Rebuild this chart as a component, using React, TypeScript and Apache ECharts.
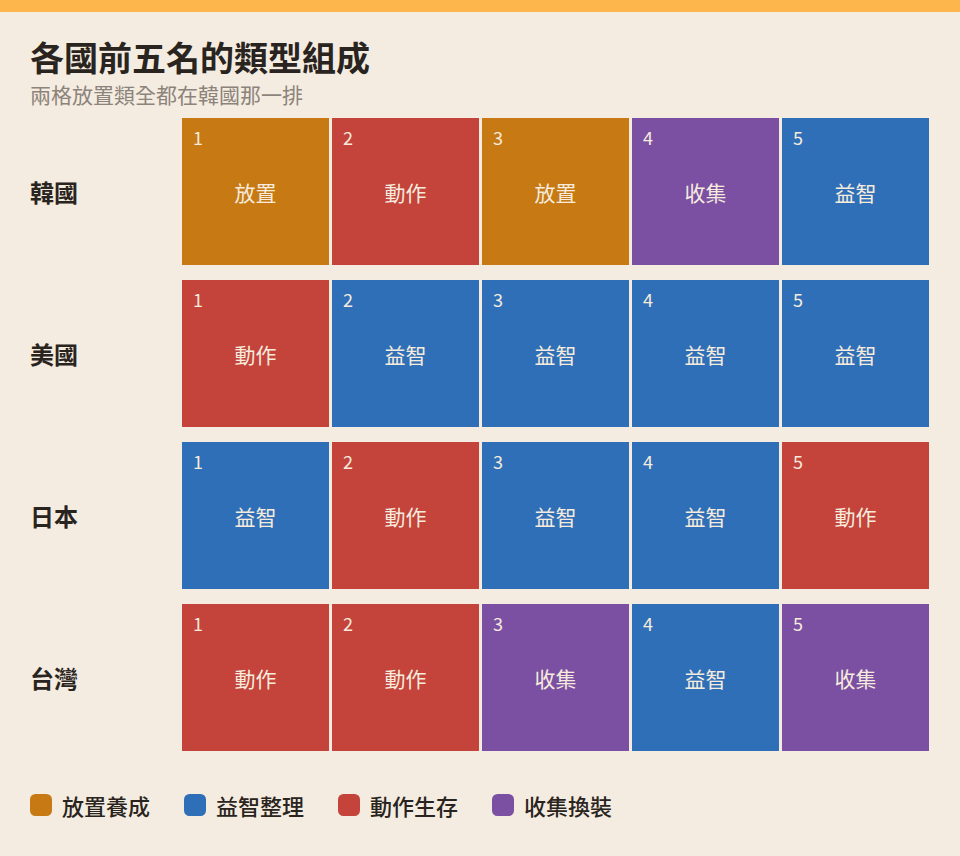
import { useEffect, useRef } from 'react'
import * as echarts from 'echarts'

// rows top to bottom, columns = rank 1..5
const countries = ['韓國', '美國', '日本', '台灣']
const ranks = ['1', '2', '3', '4', '5']
const genreKeys = ['放置', '益智', '動作', '收集']
const genreNames = ['放置養成', '益智整理', '動作生存', '收集換裝']
const genreColors = ['#C77A14', '#2E6FB7', '#C4443C', '#7B50A3']

const korea = ['放置', '動作', '放置', '收集', '益智']
const usa = ['動作', '益智', '益智', '益智', '益智']
const japan = ['益智', '動作', '益智', '益智', '動作']
const taiwan = ['動作', '動作', '收集', '益智', '收集']
const rows = [korea, usa, japan, taiwan]

const FONT = '"Noto Sans CJK TC", "Noto Sans", sans-serif'
const INK = '#2A2420'
const CREAM = '#F6EBDD'

export default function App() {
  const ref = useRef<HTMLDivElement>(null)

  useEffect(() => {
    if (!ref.current) return
    document.body.style.margin = '0'
    const chart = echarts.init(ref.current, null, { renderer: 'svg' })

    const series = genreKeys.map((key, gi) => {
      const data: number[][] = []
      rows.forEach((row, ci) => {
        row.forEach((g, ri) => {
          if (g === key) data.push([ri, ci])
        })
      })
      return {
        name: genreNames[gi],
        type: 'custom',
        data,
        itemStyle: { color: genreColors[gi] },
        renderItem: (_p: unknown, api: any) => {
          const ri = api.value(0)
          const ci = api.value(1)
          const c = api.coord([ri, ci])
          const size = api.size([1, 1])
          const w = size[0] - 3
          const h = size[1] - 15
          const x = c[0] - w / 2
          const y = c[1] - h / 2
          return {
            type: 'group',
            children: [
              {
                type: 'rect',
                shape: { x, y, width: w, height: h },
                style: { fill: genreColors[gi] },
              },
              {
                type: 'text',
                style: {
                  text: ranks[ri],
                  x: x + 11,
                  y: y + 10,
                  fill: CREAM,
                  fontSize: 18,
                  fontFamily: FONT,
                  align: 'left',
                  verticalAlign: 'top',
                },
              },
              {
                type: 'text',
                style: {
                  text: rows[ci][ri],
                  x: c[0],
                  y: c[1],
                  fill: CREAM,
                  fontSize: 21,
                  fontFamily: FONT,
                  align: 'center',
                  verticalAlign: 'middle',
                },
              },
            ],
          }
        },
      }
    })

    chart.setOption({
      animation: false,
      backgroundColor: '#F4ECE1',
      textStyle: { fontFamily: FONT },
      title: {
        text: '各國前五名的類型組成',
        subtext: '兩格放置類全都在韓國那一排',
        left: 30,
        top: 39,
        padding: 0,
        itemGap: 10,
        textStyle: { fontSize: 34, lineHeight: 34, fontWeight: 'bold', color: INK, fontFamily: FONT },
        subtextStyle: { fontSize: 21, lineHeight: 21, color: '#8C837A', fontFamily: FONT },
      },
      graphic: [
        {
          type: 'rect',
          left: 0,
          top: 0,
          shape: { width: 960, height: 12 },
          style: { fill: '#FDB64B' },
        },
      ],
      legend: {
        left: 30,
        top: 794,
        padding: 0,
        icon: 'roundRect',
        itemWidth: 22,
        itemHeight: 22,
        itemGap: 34,
        data: genreNames,
        textStyle: {
          fontSize: 22,
          color: INK,
          fontFamily: FONT,
          fontWeight: 500,
          padding: [0, 0, 0, 5],
        },
      },
      grid: { left: 180.5, top: 110.5, width: 750, height: 648 },
      xAxis: {
        type: 'category',
        data: ranks,
        show: false,
      },
      yAxis: {
        type: 'category',
        data: countries,
        inverse: true,
        axisLine: { show: false },
        axisTick: { show: false },
        splitLine: { show: false },
        axisLabel: {
          align: 'left',
          margin: 150.5,
          fontSize: 24,
          fontWeight: 'bold',
          color: INK,
          fontFamily: FONT,
        },
      },
      series,
    })

    return () => {
      chart.dispose()
    }
  }, [])

  return <div ref={ref} style={{ width: 960, height: 856 }} />
}
